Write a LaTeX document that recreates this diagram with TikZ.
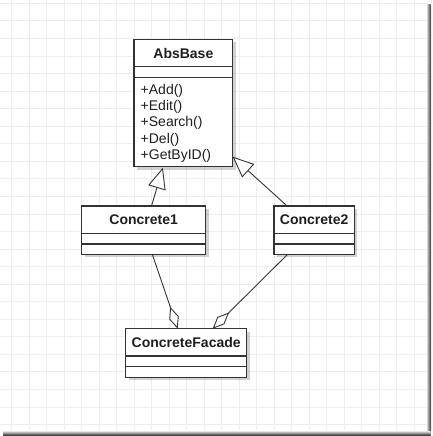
\documentclass[tikz,border=0pt]{standalone}
\usepackage{fontspec}
\setmainfont{Liberation Sans}
\usetikzlibrary{arrows.meta,shadows,calc}
\definecolor{linec}{HTML}{333333}
\definecolor{textc}{HTML}{1E1E1E}
\definecolor{gridc}{HTML}{EEEEEE}
\tikzset{
  classbox/.style={draw=linec, line width=1.3pt, fill=white, anchor=north west,
    inner sep=0pt, outer sep=0pt,
    drop shadow={shadow xshift=3pt, shadow yshift=-3pt, opacity=0.18, fill=black}},
  sepline/.style={draw=linec, line width=1.2pt},
  title/.style={font=\bfseries\fontsize{14}{16}\selectfont, text=textc, anchor=base, inner sep=0pt},
  meth/.style={font=\fontsize{14}{16}\selectfont, text=textc, anchor=base west, inner sep=0pt},
  inh/.style={draw=linec, line width=0.9pt, -{Triangle[length=21pt,width=18pt,fill=white,line width=0.9pt]}},
  agg/.style={draw=linec, line width=0.9pt, -{Diamond[length=23pt,width=10pt,fill=white,line width=0.9pt]}},
}
\begin{document}
\begin{tikzpicture}[x=1pt,y=-1pt]
\useasboundingbox (0,0) rectangle (432,436);
\fill[white] (0,0) rectangle (432,436);
% grid
\foreach \i in {0,...,24} {
  \draw[gridc, line width=0.8pt] ({11.7+17.5*\i},0) -- ({11.7+17.5*\i},430);
}
\foreach \j in {0,...,24} {
  \draw[gridc, line width=0.8pt] (0,{3.3+17.55*\j}) -- (427,{3.3+17.55*\j});
}
% frame shadow
\shade[left color=gray!35, right color=black!75] (427,5) rectangle (430.5,435);
\shade[top color=gray!35, bottom color=black!75] (3,431.5) rectangle (430.5,435);

% AbsBase
\node[classbox, minimum width=98.7pt, minimum height=127.4pt] (abs) at (134,39.3) {};
\draw[sepline] ($(abs.north west)+(0,27.4)$) -- ($(abs.north east)+(0,27.4)$);
\draw[sepline] ($(abs.north west)+(0,38)$) -- ($(abs.north east)+(0,38)$);
\node[title] (abst) at ($(abs.north)+(0,19)$) {AbsBase};
\node[meth] (m1) at ($(abs.north west)+(6.5,55)$) {+Add()};
\node[meth] (m2) at ($(abs.north west)+(6.5,71.3)$) {+Edit()};
\node[meth] (m3) at ($(abs.north west)+(6.5,87.6)$) {+Search()};
\node[meth] (m4) at ($(abs.north west)+(6.5,103.9)$) {+Del()};
\node[meth] (m5) at ($(abs.north west)+(6.5,120.2)$) {+GetByID()};

% Concrete1
\node[classbox, minimum width=124pt, minimum height=48.3pt] (c1) at (81.7,206) {};
\draw[sepline] ($(c1.north west)+(0,27.3)$) -- ($(c1.north east)+(0,27.3)$);
\draw[sepline] ($(c1.north west)+(0,38)$) -- ($(c1.north east)+(0,38)$);
\node[title] (c1t) at ($(c1.north)+(0,18.8)$) {Concrete1};

% Concrete2
\node[classbox, minimum width=80.3pt, minimum height=48.3pt] (c2) at (274,206) {};
\draw[sepline] ($(c2.north west)+(0,27.3)$) -- ($(c2.north east)+(0,27.3)$);
\draw[sepline] ($(c2.north west)+(0,38)$) -- ($(c2.north east)+(0,38)$);
\node[title] (c2t) at ($(c2.north)+(0,18.8)$) {Concrete2};

% ConcreteFacade
\node[classbox, minimum width=121pt, minimum height=48.6pt] (cf) at (125.7,328.7) {};
\draw[sepline] ($(cf.north west)+(0,27.3)$) -- ($(cf.north east)+(0,27.3)$);
\draw[sepline] ($(cf.north west)+(0,38)$) -- ($(cf.north east)+(0,38)$);
\node[title] (cft) at ($(cf.north)+(0,18.8)$) {ConcreteFacade};

% connectors
\draw[inh] ([xshift=7.8pt]c1.north) -- ([xshift=-20.5pt,yshift=-1pt]abs.south);
\draw[inh] ([xshift=-27pt]c2.north) -- ([yshift=10pt]abs.south east);
\draw[agg] ([xshift=8.6pt]c1.south) -- ([xshift=-8.5pt]cf.north);
\draw[agg] ([xshift=-26.5pt]c2.south) -- ([xshift=26.5pt]cf.north);
\end{tikzpicture}
\end{document}
